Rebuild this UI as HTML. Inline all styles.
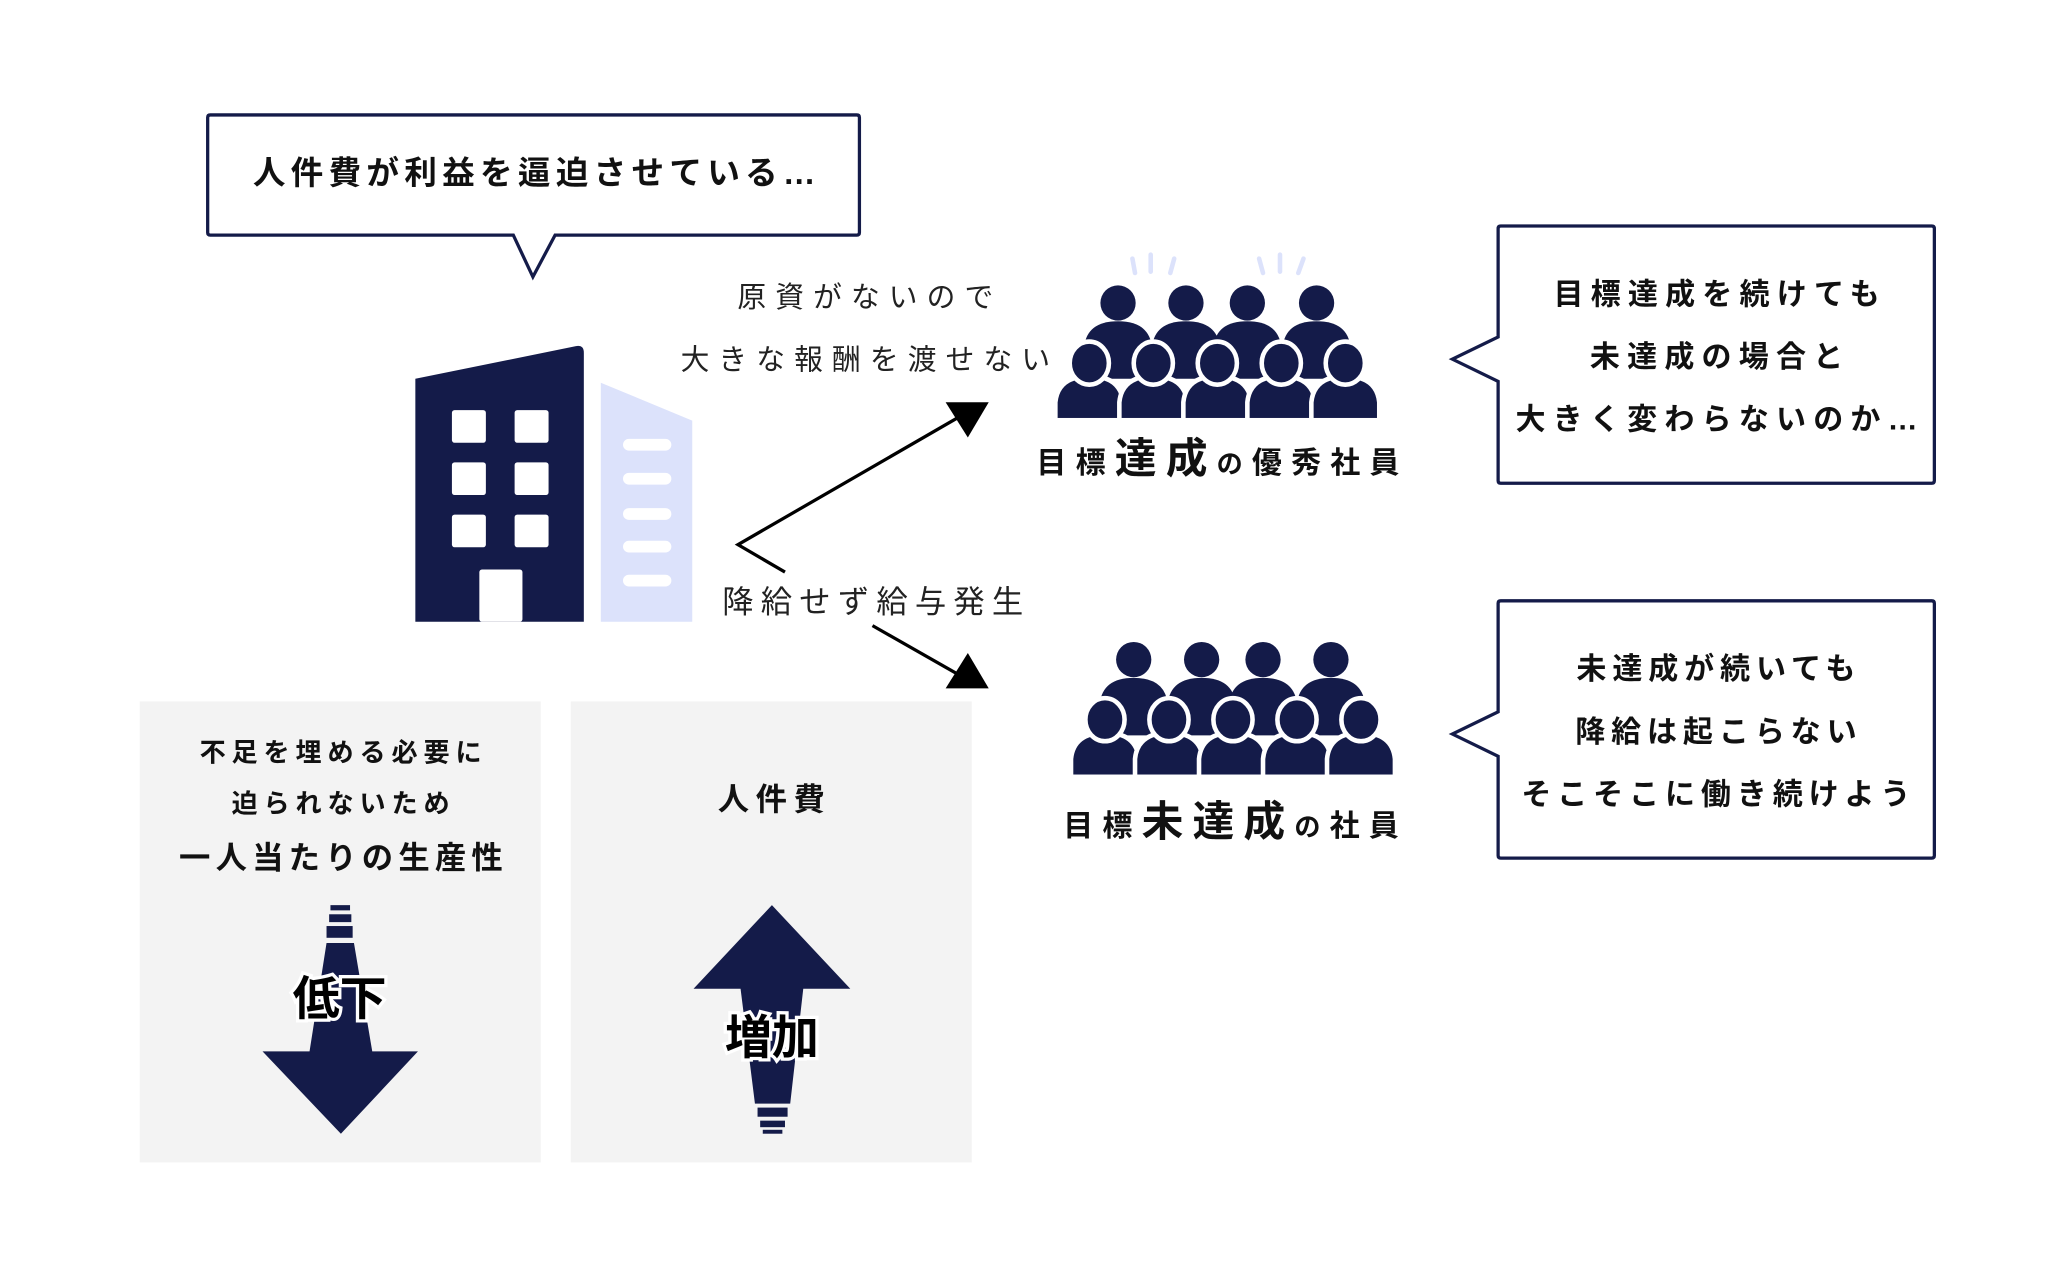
<!DOCTYPE html>
<html><head><meta charset="utf-8"><style>
html,body{margin:0;padding:0;background:#fff;width:2048px;height:1280px;overflow:hidden}
#w{position:absolute;left:0;top:0;width:1568px;height:980px;transform:scale(1.30612);transform-origin:0 0}
svg{position:absolute;left:0;top:0}
text{font-family:"Liberation Sans","Noto Sans CJK JP",sans-serif}
</style></head><body><div id="w">
<svg width="1568" height="980" viewBox="0 0 1568 980">
<defs>
<g id="backP"><circle cx="0" cy="0" r="13.5" fill="#141b49"/><path d="M-26,58 L-26,34 Q-24,14 0,14 Q24,14 26,34 L26,58 Z" fill="#141b49"/></g>
<g id="frontP"><path d="M-26,44 L-26,30 Q-24,10 0,10 Q24,10 26,30 L26,44 Z" fill="#141b49" stroke="#fff" stroke-width="3.5"/><ellipse cx="0" cy="0" rx="15" ry="16.5" fill="#141b49" stroke="#fff" stroke-width="3.5"/></g>
</defs>
<path d="M161,88 H656 Q658,88 658,90 V178 Q658,180 656,180 H425 L408,212 L393,180 H161 Q159,180 159,178 V90 Q159,88 161,88 Z" fill="#fff" stroke="#141b49" stroke-width="2.5"/>
<text x="411" y="141" font-size="25" font-weight="bold" text-anchor="middle" fill="#111" letter-spacing="4">人件費が利益を逼迫させている…</text>
<path d="M318,290 L441,265 Q447,264 447,270 V476 H318 Z" fill="#141b49"/>
<g fill="#fff">
<rect x="346" y="314" width="26" height="25" rx="2"/><rect x="394" y="314" width="26" height="25" rx="2"/>
<rect x="346" y="354" width="26" height="25" rx="2"/><rect x="394" y="354" width="26" height="25" rx="2"/>
<rect x="346" y="394" width="26" height="25" rx="2"/><rect x="394" y="394" width="26" height="25" rx="2"/>
<rect x="367" y="436" width="33" height="40" rx="2"/>
</g>
<path d="M460,293 L530,322 V476 H460 Z" fill="#dce2fb"/>
<g fill="#fff">
<rect x="477" y="336" width="37" height="9" rx="4.5"/><rect x="477" y="362" width="37" height="9" rx="4.5"/>
<rect x="477" y="389" width="37" height="9" rx="4.5"/><rect x="477" y="414" width="37" height="9" rx="4.5"/>
<rect x="477" y="440" width="37" height="9" rx="4.5"/>
</g>
<polyline points="733,320 565,417 601,438" fill="none" stroke="#000" stroke-width="2.5"/>
<line x1="668" y1="479" x2="733" y2="516" stroke="#000" stroke-width="2.5"/>
<polygon points="724,308 757,308 741,335" fill="#000"/>
<polygon points="724,527 757,527 741,500" fill="#000"/>
<text x="666" y="235" font-size="22" text-anchor="middle" fill="#222" letter-spacing="7">原資がないので</text>
<text x="666" y="283" font-size="22" text-anchor="middle" fill="#222" letter-spacing="7">大きな報酬を渡せない</text>
<text x="553" y="469" font-size="24" fill="#222" letter-spacing="5.5">降給せず給与発生</text>
<g stroke="#dce2fb" stroke-width="3.5" stroke-linecap="round">
<line x1="867" y1="198" x2="869" y2="209"/><line x1="881" y1="195" x2="881" y2="208"/><line x1="899" y1="198" x2="896" y2="209"/>
<line x1="964" y1="198" x2="967" y2="209"/><line x1="980" y1="195" x2="980" y2="208"/><line x1="998" y1="198" x2="994" y2="209"/>
</g>
<use href="#backP" x="856" y="232"/><use href="#backP" x="908" y="232"/><use href="#backP" x="955" y="232"/><use href="#backP" x="1008" y="232"/>
<use href="#frontP" x="834" y="278"/><use href="#frontP" x="883" y="278"/><use href="#frontP" x="932" y="278"/><use href="#frontP" x="981" y="278"/><use href="#frontP" x="1030" y="278"/>
<rect x="805" y="320" width="255" height="6" fill="#fff"/>
<text x="936" y="362" text-anchor="middle" fill="#111" font-weight="bold" letter-spacing="7"><tspan font-size="23">目標</tspan><tspan font-size="32">達成</tspan><tspan font-size="20">の</tspan><tspan font-size="23">優秀社員</tspan></text>
<use href="#backP" x="868" y="505"/><use href="#backP" x="920" y="505"/><use href="#backP" x="967" y="505"/><use href="#backP" x="1019" y="505"/>
<use href="#frontP" x="846" y="551"/><use href="#frontP" x="895" y="551"/><use href="#frontP" x="944" y="551"/><use href="#frontP" x="993" y="551"/><use href="#frontP" x="1042" y="551"/>
<rect x="815" y="593" width="260" height="6" fill="#fff"/>
<text x="946" y="640" text-anchor="middle" fill="#111" font-weight="bold" letter-spacing="7"><tspan font-size="23">目標</tspan><tspan font-size="32">未達成</tspan><tspan font-size="20">の</tspan><tspan font-size="23">社員</tspan></text>
<path d="M1149,173 H1479 Q1481,173 1481,175 V368 Q1481,370 1479,370 H1149 Q1147,370 1147,368 V292 L1112,275 L1147,258 V175 Q1147,173 1149,173 Z" fill="#fff" stroke="#141b49" stroke-width="2.5"/>
<g font-size="23" font-weight="bold" text-anchor="middle" fill="#111" letter-spacing="5.5">
<text x="1317" y="233">目標達成を続けても</text>
<text x="1317" y="281">未達成の場合と</text>
<text x="1317" y="329">大きく変わらないのか…</text>
</g>
<path d="M1149,460 H1479 Q1481,460 1481,462 V655 Q1481,657 1479,657 H1149 Q1147,657 1147,655 V579 L1112,562 L1147,545 V462 Q1147,460 1149,460 Z" fill="#fff" stroke="#141b49" stroke-width="2.5"/>
<g font-size="23" font-weight="bold" text-anchor="middle" fill="#111" letter-spacing="4.5">
<text x="1316" y="520">未達成が続いても</text>
<text x="1316" y="568">降給は起こらない</text>
<text x="1316" y="616">そこそこに働き続けよう</text>
</g>
<rect x="107" y="537" width="307" height="353" fill="#f3f3f3"/>
<rect x="437" y="537" width="307" height="353" fill="#f3f3f3"/>
<g font-weight="bold" text-anchor="middle" fill="#111">
<text x="263" y="583" font-size="20" letter-spacing="4.5">不足を埋める必要に</text>
<text x="263" y="622" font-size="20" letter-spacing="4.5">迫られないため</text>
<text x="263" y="665" font-size="24" letter-spacing="4">一人当たりの生産性</text>
<text x="593" y="620" font-size="24" letter-spacing="5">人件費</text>
</g>
<g fill="#141b49">
<rect x="253" y="693" width="15" height="4"/>
<rect x="252" y="700" width="17" height="6"/>
<rect x="250" y="709" width="20" height="9"/>
<polygon points="250,722 271,722 285,805 320,805 261,868 201,805 237,805"/>
</g>
<text x="260" y="777" font-size="36" font-weight="bold" text-anchor="middle" fill="#000" stroke="#fff" stroke-width="5" paint-order="stroke">低下</text>
<g fill="#141b49">
<polygon points="591,693 651,757 615,757 605,845 578,845 567,757 531,757"/>
<rect x="580" y="848" width="23" height="7"/>
<rect x="582" y="858" width="19" height="5"/>
<rect x="584" y="865" width="15" height="3"/>
</g>
<text x="591" y="807" font-size="36" font-weight="bold" text-anchor="middle" fill="#000" stroke="#fff" stroke-width="5" paint-order="stroke">増加</text>
</svg>
</div></body></html>
